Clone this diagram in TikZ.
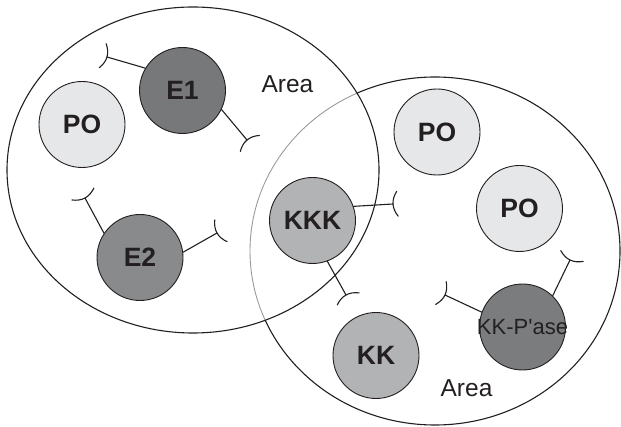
\documentclass[tikz,border=0pt]{standalone}
\usepackage{fontspec}
\setmainfont{Liberation Sans}
\usetikzlibrary{calc}
\definecolor{ink}{HTML}{231F20}
\definecolor{poFill}{HTML}{E6E7E8}
\definecolor{eOneFill}{HTML}{77787A}
\definecolor{eTwoFill}{HTML}{898A8C}
\definecolor{kkFill}{HTML}{B2B3B5}
\definecolor{pFill}{HTML}{7B7C7E}
\definecolor{arcGray}{HTML}{9A9A9A}

% inhibitory link: straight line from #1 to #2, ending in a curved bar
\newcommand{\inhib}[2]{%
  \draw[link] (#1) -- (#2);
  \coordinate (ia) at ($(#2)!-4.5pt!(#1)$);
  \coordinate (ib) at ($(ia)!12.5pt!90:(#2)$);
  \coordinate (ic) at ($(ia)!12.5pt!-90:(#2)$);
  \coordinate (iq) at ($(#2)!-1!(ia)$);
  \draw[link] (ib) .. controls ($(ib)!2/3!(iq)$) and ($(ic)!2/3!(iq)$) .. (ic);
}

\tikzset{
  mol/.style={circle, draw=ink, line width=0.9pt, minimum size=86pt, inner sep=0pt},
  molname/.style={font=\fontsize{26.5}{26.5}\selectfont\bfseries, text=ink},
  link/.style={draw=ink, line width=1.1pt, line cap=round},
  area/.style={draw=ink, line width=1.1pt},
  arealabel/.style={font=\fontsize{24.5}{24.5}\selectfont, text=ink},
}

\begin{document}
\begin{tikzpicture}[x=1pt, y=-1pt]
\useasboundingbox (0,0) rectangle (621,427);

% molecules
\node[mol, fill=poFill, label={[molname]center:PO}] (po1) at (82,124.5) {};
\node[mol, fill=eOneFill, label={[molname]center:E1}] (e1) at (182.5,90.5) {};
\node[mol, fill=eTwoFill, label={[molname]center:E2}] (e2) at (140,257.5) {};
\node[mol, fill=kkFill, label={[molname]center:KKK}] (kkk) at (312.5,220.5) {};
\node[mol, fill=poFill, label={[molname]center:PO}] (po2) at (437,132) {};
\node[mol, fill=poFill, label={[molname]center:PO}] (po3) at (519.5,208.5) {};
\node[mol, fill=kkFill, label={[molname]center:KK}] (kk) at (376,355.5) {};
\node[mol, fill=pFill, label={[font=\fontsize{22}{22}\selectfont, text=ink]center:KK-P\textquotesingle ase}] (kkp) at (522.5,327) {};

% areas: right one is grey where it lies inside the left one
\begin{scope}
  \clip (193,170) ellipse [x radius=186, y radius=163];
  \draw[draw=arcGray, line width=0.9pt] (435,251) ellipse [x radius=185, y radius=174];
\end{scope}
\begin{scope}[even odd rule]
  \clip (-20,-20) rectangle (650,450) (193,170) ellipse [x radius=186, y radius=163];
  \draw[area] (435,251) ellipse [x radius=185, y radius=174];
\end{scope}
\draw[area] (193,170) ellipse [x radius=186, y radius=163];

\node[arealabel] (area1) at (287.5,84) {Area};
\node[arealabel] (area2) at (466.5,388.5) {Area};

% inhibitory links
\coordinate (t1) at (107,57);
\coordinate (t2) at (247,140);
\coordinate (t3) at (85,198);
\coordinate (t4) at (217,233);
\coordinate (t5) at (393,204);
\coordinate (t6) at (346,295);
\coordinate (t7) at (445,295);
\coordinate (t8) at (570,260);
\inhib{e1.149}{t1}
\inhib{e1.-26}{t2}
\inhib{e2.146}{t3}
\inhib{e2.7}{t4}
\inhib{kkk.19}{t5}
\inhib{kkk.-70}{t6}
\inhib{kkp.160}{t7}
\inhib{kkp.46}{t8}
\end{tikzpicture}
\end{document}
